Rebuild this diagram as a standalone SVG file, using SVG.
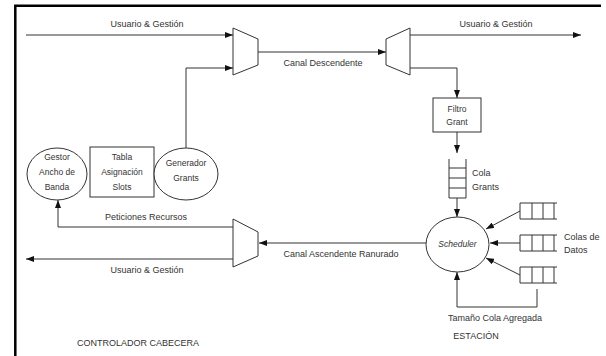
<svg xmlns="http://www.w3.org/2000/svg" width="606" height="356" viewBox="0 0 606 356">
<style>
text{font-family:"Liberation Sans",Arial,sans-serif;fill:#333;text-anchor:middle}
.t{font-size:9px}
.n{font-size:8.5px}
.l{text-anchor:start}
.s{fill:#fff;stroke:#333;stroke-width:1}
.c{fill:none;stroke:#333;stroke-width:1}
</style>
<defs>
<marker id="a" markerWidth="8" markerHeight="6" refX="8" refY="3" orient="auto" markerUnits="userSpaceOnUse">
<path d="M0,0 L8,3 L0,6 z" fill="#111"/>
</marker>
</defs>
<rect width="606" height="356" fill="#fff"/>
<path d="M15.3,356 V5.8 H601" fill="none" stroke="#000" stroke-width="2.5"/>

<g id="connectors">
<path class="c" d="M26,35 H233" marker-end="url(#a)"/>
<path class="c" d="M186,148 V68 H233" marker-end="url(#a)"/>
<path class="c" d="M258,52 H386" marker-end="url(#a)"/>
<path class="c" d="M410,35 H581" marker-end="url(#a)"/>
<path class="c" d="M410,68 H457 V98" marker-end="url(#a)"/>
<path class="c" d="M457,132 V153" marker-end="url(#a)"/>
<path class="c" d="M457,198 V217" marker-end="url(#a)"/>
<path class="c" d="M520,211 L486,229" marker-end="url(#a)"/>
<path class="c" d="M520,243 L490,243" marker-end="url(#a)"/>
<path class="c" d="M520,275 L486,258" marker-end="url(#a)"/>
<path class="c" d="M537,289 V307 H457 V272" marker-end="url(#a)"/>
<path class="c" d="M426,243 H259" marker-end="url(#a)"/>
<path class="c" d="M233,227 H58 V200" marker-end="url(#a)"/>
<path class="c" d="M233,259 H26" marker-end="url(#a)"/>
</g>

<g id="mux-down">
<path class="s" d="M233,28 L258,39 L258,65 L233,75 Z"/>
</g>
<g id="demux-down">
<path class="s" d="M386,39 L410,28 L410,75 L386,65 Z"/>
</g>
<g id="mux-up">
<path class="s" d="M233,219 L258,232 L258,256 L233,267 Z"/>
</g>

<g id="gestor">
<ellipse class="s" cx="57" cy="174" rx="30" ry="26"/>
<text class="n" x="57" y="160">Gestor</text>
<text class="n" x="57" y="175">Ancho de</text>
<text class="n" x="57" y="190">Banda</text>
</g>
<g id="tabla">
<rect class="s" x="90" y="147" width="64" height="50"/>
<text class="n" x="122" y="160">Tabla</text>
<text class="n" x="122" y="175">Asignación</text>
<text class="n" x="122" y="190">Slots</text>
</g>
<g id="generador">
<ellipse class="s" cx="186" cy="174" rx="32" ry="26"/>
<text class="n" x="186" y="166">Generador</text>
<text class="n" x="186" y="181">Grants</text>
</g>

<g id="filtro">
<rect class="s" x="433" y="98" width="48" height="34"/>
<text class="n" x="457" y="112">Filtro</text>
<text class="n" x="457" y="125">Grant</text>
</g>

<g id="cola-grants">
<path class="c" d="M449,159 V198 H466 V159 M449,168 H466 M449,178 H466 M449,188 H466"/>
<text class="t l" x="472" y="176">Cola</text>
<text class="t l" x="472" y="190">Grants</text>
</g>

<g id="scheduler">
<ellipse class="s" cx="457.5" cy="244.5" rx="31.5" ry="27.5"/>
<text class="n" x="457.5" y="247" font-style="italic">Scheduler</text>
</g>

<g id="colas-datos">
<path class="c" d="M557,203 H520 V219 H557 M532,203 V219 M543,203 V219 M554,203 V219"/>
<path class="c" d="M557,235 H520 V251 H557 M532,235 V251 M543,235 V251 M554,235 V251"/>
<path class="c" d="M557,267 H520 V283 H557 M532,267 V283 M543,267 V283 M554,267 V283"/>
<text class="t l" x="564" y="240">Colas de</text>
<text class="t l" x="564" y="253">Datos</text>
</g>

<g id="labels">
<text class="t" x="147" y="27">Usuario &amp; Gestión</text>
<text class="t" x="496" y="27">Usuario &amp; Gestión</text>
<text class="t" x="323" y="66">Canal Descendente</text>
<text class="t" x="341" y="257">Canal Ascendente Ranurado</text>
<text class="t" x="146" y="220">Peticiones Recursos</text>
<text class="t" x="147" y="273">Usuario &amp; Gestión</text>
<text class="t" x="495" y="321">Tamaño Cola Agregada</text>
<text class="t" x="476" y="339">ESTACIÓN</text>
<text class="t" x="138" y="346">CONTROLADOR CABECERA</text>
</g>
</svg>
